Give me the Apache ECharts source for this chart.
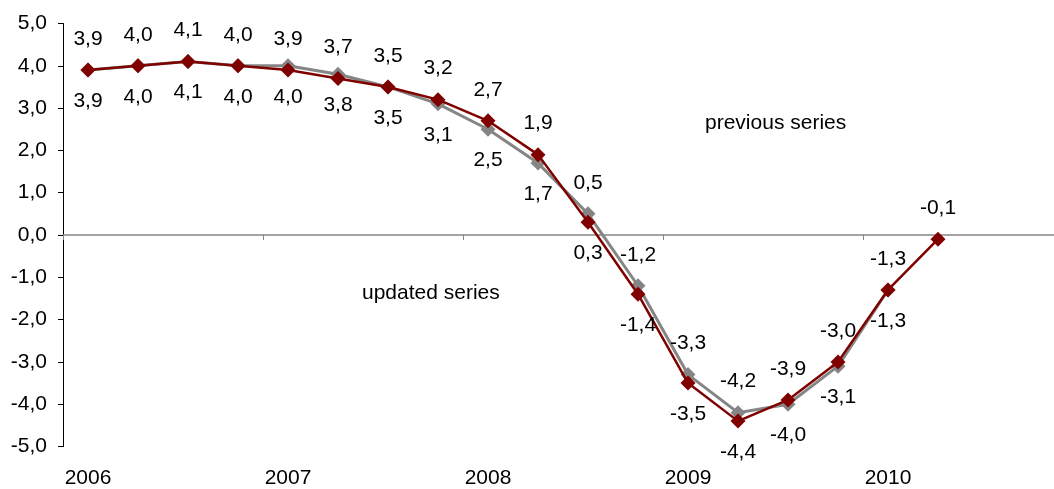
<!DOCTYPE html>
<html>
<head>
<meta charset="utf-8">
<script src="https://cdn.jsdelivr.net/npm/echarts@6/dist/echarts.min.js"></script>
<style>
  html, body { margin: 0; padding: 0; background: #ffffff; }
  #chart { width: 1054px; height: 489px; }
</style>
</head>
<body>
<div id="chart"></div>
<script>
// Years shown on the category axis; each year has four quarterly categories.
const years = ['2006', '2007', '2008', '2009', '2010'];
const quarterNames = ['Q1', 'Q2', 'Q3', 'Q4'];

// Quarterly growth figures, 2006 Q1 onwards.
const updatedSeries = [3.9, 4.0, 4.1, 4.0, 3.9, 3.7, 3.5, 3.2, 2.7, 1.9, 0.3, -1.4, -3.5, -4.4, -3.9, -3.0, -1.3, -0.1];
const previousSeries = [3.9, 4.0, 4.1, 4.0, 4.0, 3.8, 3.5, 3.1, 2.5, 1.7, 0.5, -1.2, -3.3, -4.2, -4.0, -3.1, -1.3];

// Value axis range and step.
const yMin = -5;
const yMax = 5;
const yStep = 1;

const categories = [];
years.forEach(y => quarterNames.forEach(q => categories.push(y + ' ' + q)));

const FONT = "'Liberation Sans', Arial, sans-serif";
const FS = 21;
const fmt = v => v.toFixed(1).replace('.', ',');

// Labels of the updated line sit on top, unless the previous figure is clearly higher.
function updatedOnTop(i) {
  const p = previousSeries[i];
  return p === undefined || p - updatedSeries[i] < 0.15;
}

const labelBase = {
  show: true,
  distance: 13,
  fontSize: FS,
  fontFamily: FONT,
  color: '#000000',
  formatter: p => fmt(p.value)
};

const updatedData = updatedSeries.map((v, i) => ({
  value: v,
  label: { position: updatedOnTop(i) ? 'top' : 'bottom' }
}));
const previousData = previousSeries.map((v, i) => ({
  value: v,
  label: { position: updatedOnTop(i) ? 'bottom' : 'top' }
}));

const chart = echarts.init(document.getElementById('chart'), null, { renderer: 'canvas' });

chart.setOption({
  animation: false,
  backgroundColor: '#ffffff',
  grid: {
    left: 63, top: 23.5, width: 1000, height: 423,
    containLabel: false,
    outerBoundsMode: 'none'
  },
  xAxis: [
    {
      // category axis drawn through zero, with year separators
      type: 'category',
      data: categories,
      boundaryGap: true,
      axisLine: { onZero: true, lineStyle: { color: '#858585', width: 1.5 } },
      axisTick: { show: true, interval: 3, length: 5, inside: false, lineStyle: { color: '#858585', width: 1 } },
      axisLabel: { show: false },
      splitLine: { show: false }
    },
    {
      // year labels along the bottom of the plot
      type: 'category',
      data: categories,
      position: 'bottom',
      boundaryGap: true,
      axisLine: { show: false, onZero: false },
      axisTick: { show: false },
      axisLabel: {
        show: true,
        interval: 3,
        margin: 21,
        fontSize: FS,
        fontFamily: FONT,
        color: '#000000',
        formatter: v => v.slice(0, 4)
      },
      splitLine: { show: false }
    }
  ],
  yAxis: {
    type: 'value',
    min: yMin,
    max: yMax,
    interval: yStep,
    axisLine: { show: true, lineStyle: { color: '#000000', width: 1 } },
    axisTick: { show: true, length: 5, lineStyle: { color: '#000000' } },
    axisLabel: {
      margin: 16,
      fontSize: FS,
      fontFamily: FONT,
      color: '#000000',
      formatter: v => fmt(v)
    },
    splitLine: { show: false }
  },
  series: [
    {
      name: 'previous series',
      type: 'line',
      xAxisIndex: 0,
      data: previousData,
      symbol: 'diamond',
      symbolSize: 15,
      lineStyle: { color: '#858585', width: 3 },
      itemStyle: { color: '#858585' },
      label: labelBase,
      z: 2
    },
    {
      name: 'updated series',
      type: 'line',
      xAxisIndex: 0,
      data: updatedData,
      symbol: 'diamond',
      symbolSize: 15,
      lineStyle: { color: '#800000', width: 2.5 },
      itemStyle: { color: '#800000' },
      label: labelBase,
      z: 3
    }
  ],
  graphic: [
    {
      type: 'text',
      left: 705,
      top: 113,
      style: { text: 'previous series', fontSize: FS, fontFamily: FONT, fill: '#000000' }
    },
    {
      type: 'text',
      left: 362,
      top: 283,
      style: { text: 'updated series', fontSize: FS, fontFamily: FONT, fill: '#000000' }
    }
  ]
});
</script>
</body>
</html>
